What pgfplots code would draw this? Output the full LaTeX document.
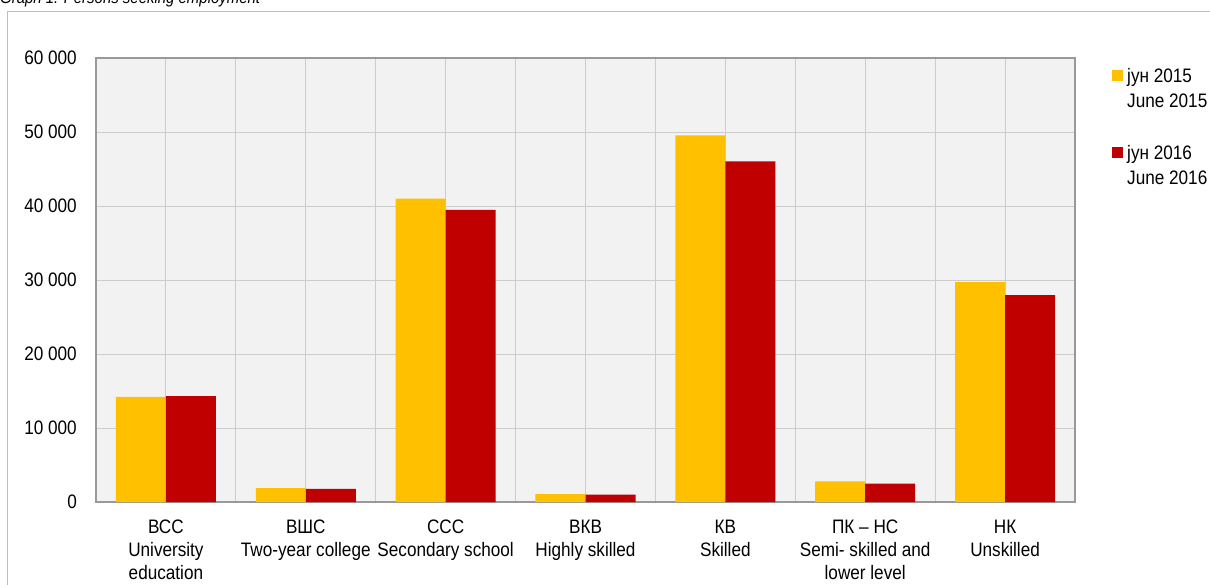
\documentclass[border=0pt]{standalone}
\usepackage{pgfplots}
\pgfplotsset{compat=1.18}
\usepackage{fontspec}
\setmainfont{Liberation Sans}[FakeStretch=0.88]
\definecolor{cyel}{HTML}{FFC000}
\definecolor{cred}{HTML}{C00000}
\definecolor{cbg}{HTML}{F2F2F2}
\definecolor{cgrid}{HTML}{CCCCCC}
\definecolor{caxis}{HTML}{999999}
\definecolor{cframe}{HTML}{BFBFBF}
\newcommand{\cf}{\fontsize{19.5}{23}\selectfont}
\newcommand{\legtxt}[2]{\fontsize{19.5}{25.5}\selectfont\begin{tabular}[t]{@{\hspace{4pt}}l@{}}#1\\#2\end{tabular}}
\begin{document}
\begin{tikzpicture}
\useasboundingbox (-96pt,-82pt) rectangle (1114pt,502pt);
\begin{axis}[
  at={(0pt,0pt)}, anchor=south west,
  scale only axis, width=979pt, height=444pt,
  xmin=-0.5, xmax=6.5, ymin=0, ymax=60000,
  scaled y ticks=false,
  axis background/.style={fill=cbg},
  axis line style={caxis, line width=1.5pt},
  ybar=0pt, bar width=50pt,
  xtick={0,...,6},
  minor xtick={-0.5,0.5,...,6.5},
  ytick={0,10000,...,60000},
  yticklabels={0,10 000,20 000,30 000,40 000,50 000,60 000},
  xticklabels={
    {ВСС\\University\\education},
    {ВШС\\Two-year college},
    {ССС\\Secondary school},
    {ВКВ\\Highly skilled},
    {КВ\\Skilled},
    {ПК – НС\\Semi- skilled and\\lower level},
    {НК\\Unskilled}},
  xticklabel style={font=\cf, align=center, inner sep=0pt, yshift=-18pt},
  yticklabel style={font=\cf, inner sep=0pt, xshift=-19pt},
  major tick length=0pt, minor tick length=0pt,
  xmajorgrids, xminorgrids, ymajorgrids,
  grid style={cgrid, line width=1pt},
  minor grid style={cgrid, line width=1pt},
  legend style={at={(1.0378,0.9865)}, anchor=north west, draw=none, fill=none,
    font=\cf, inner sep=0pt, row sep=58pt, nodes={inner sep=0pt}},
  legend cell align=left,
  legend image code/.code={\fill[#1] (0pt,-7pt) rectangle (11pt,4pt);},
]
\addplot[fill=cyel, draw=none] coordinates {(0,14190) (1,1890) (2,41000) (3,1080) (4,49550) (5,2790) (6,29730)};
\addplot[fill=cred, draw=none] coordinates {(0,14320) (1,1760) (2,39460) (3,990) (4,46040) (5,2480) (6,27970)};
\legend{\legtxt{јун 2015}{June 2015},\legtxt{јун 2016}{June 2016}}
\end{axis}
\draw[cframe, line width=1pt] (-88pt,-200pt) -- (-88pt,490pt) -- (1300pt,490pt);
\node[anchor=base west, inner sep=0pt, font={\fontsize{17}{20}\selectfont\itshape}] at (-96pt,498pt) {Graph 1. Persons seeking employment};
\end{tikzpicture}
\end{document}
